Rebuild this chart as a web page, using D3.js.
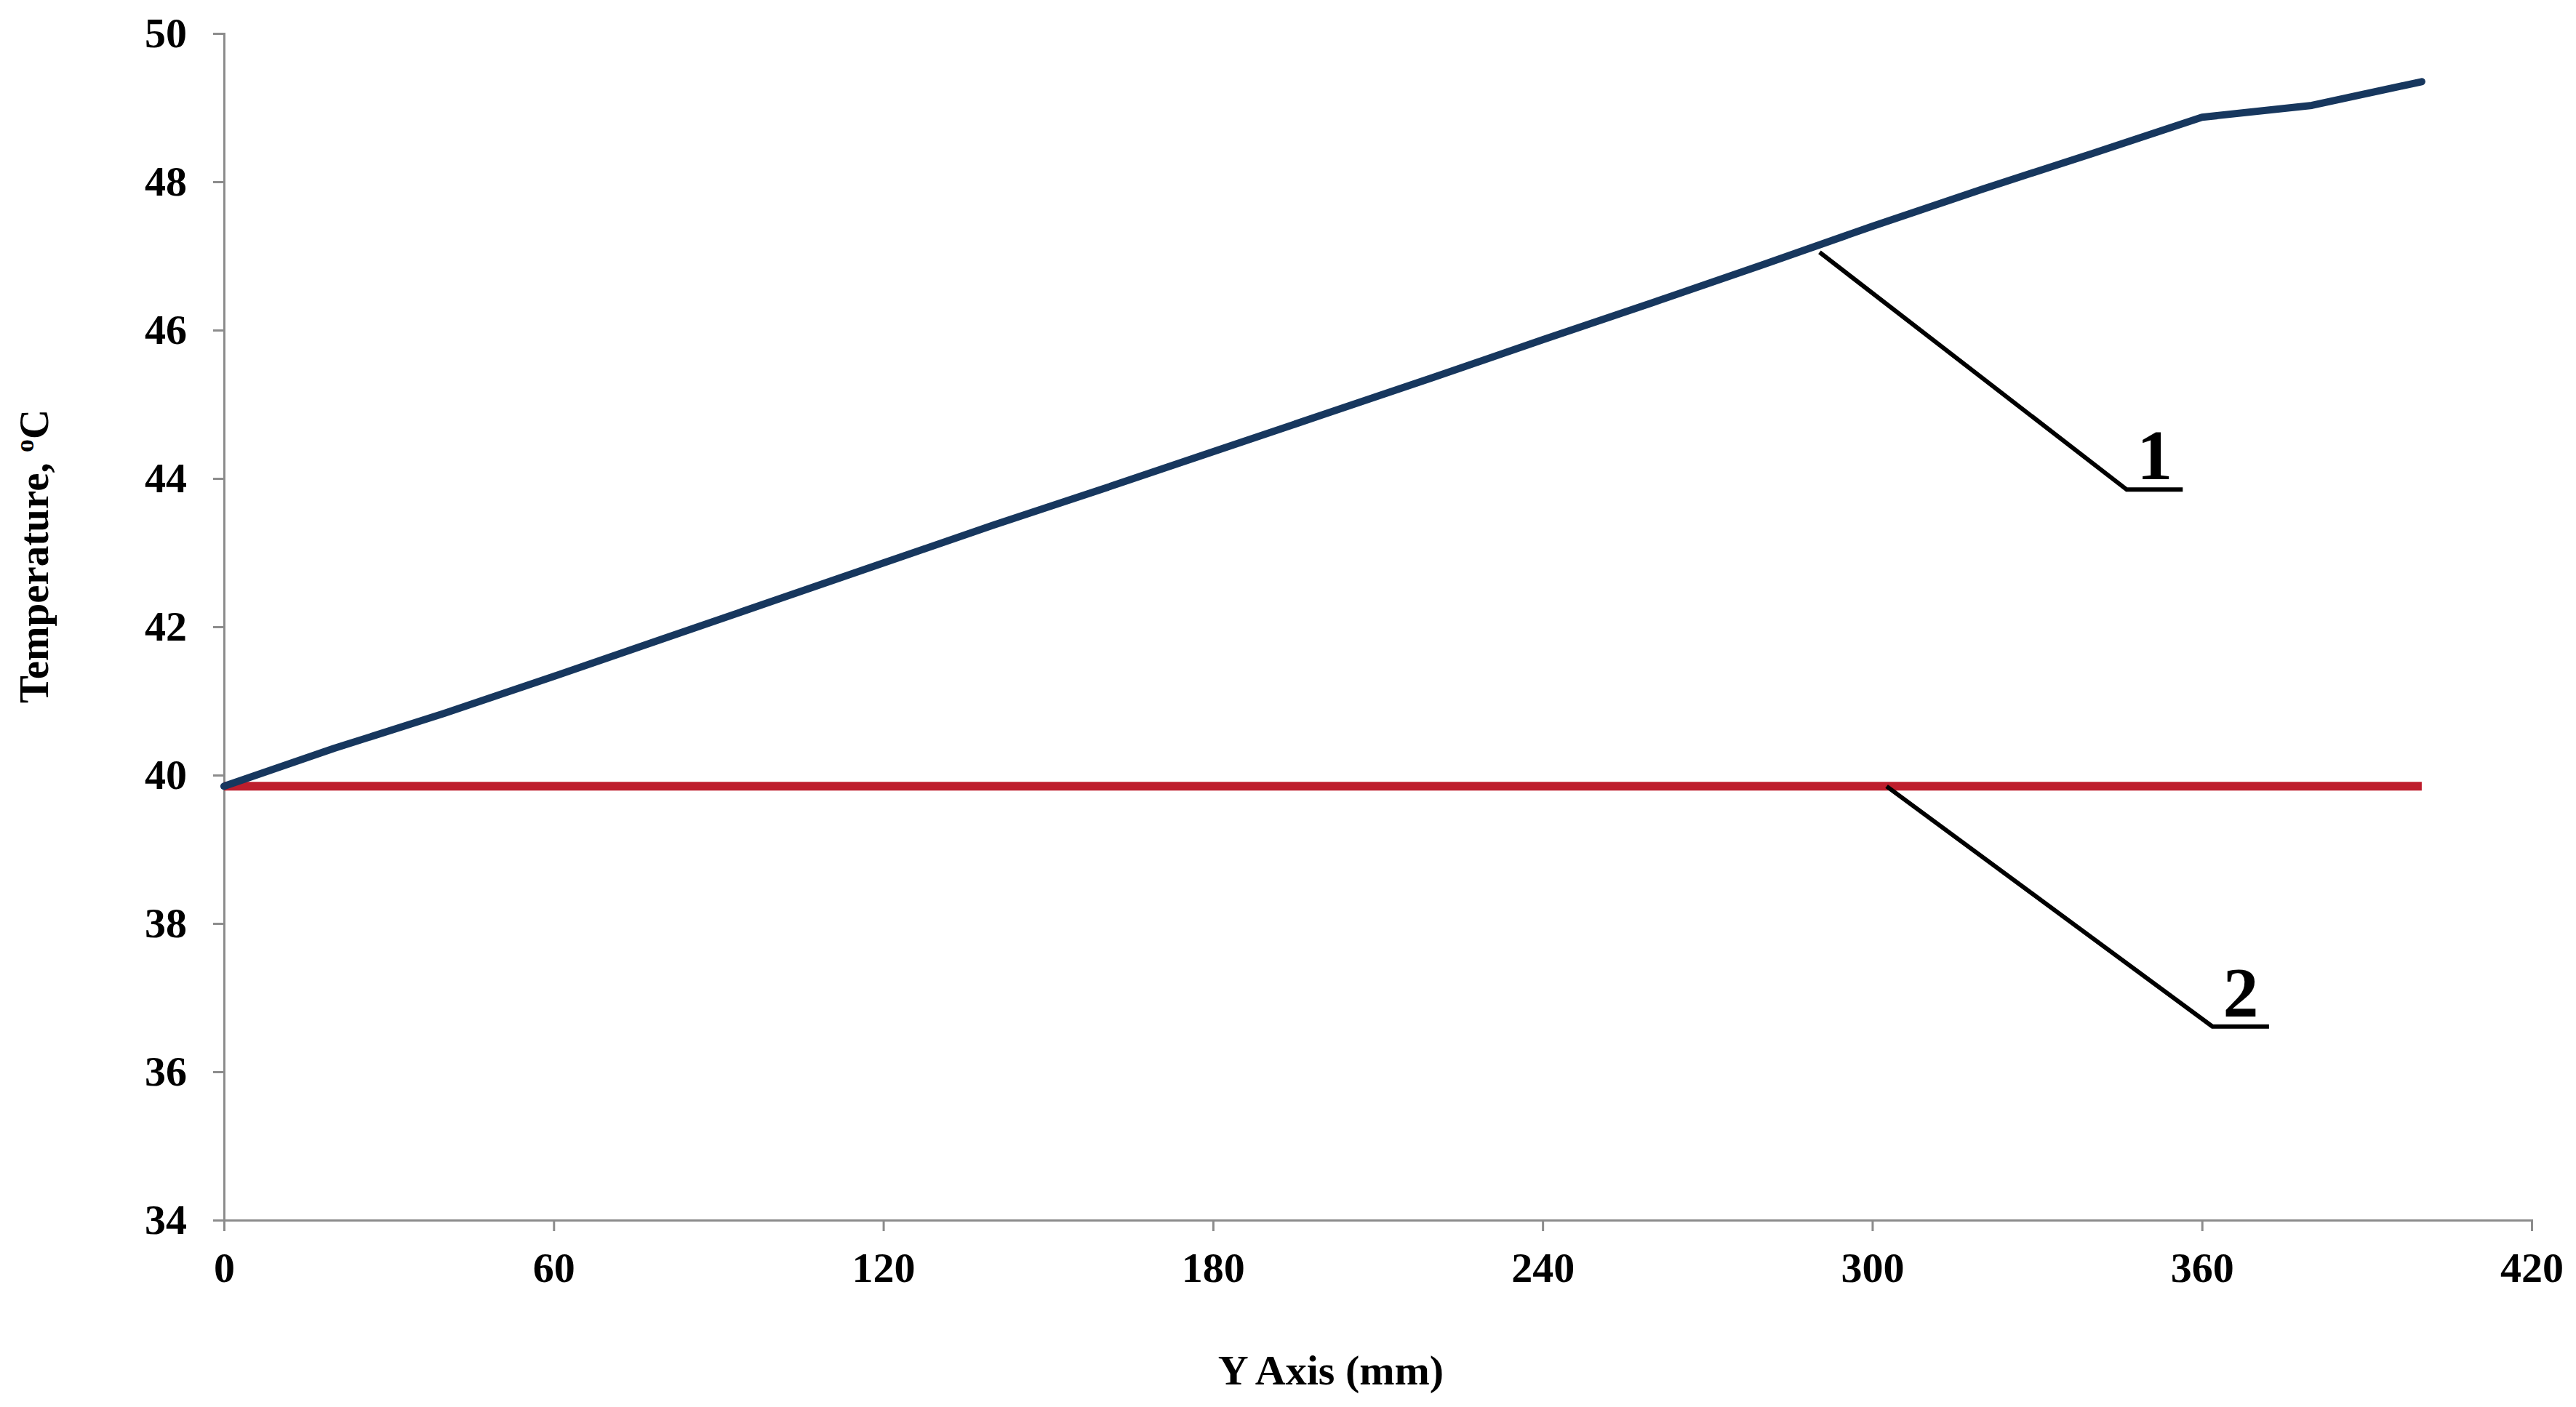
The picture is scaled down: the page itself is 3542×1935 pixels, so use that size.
<!DOCTYPE html>
<html lang="en">
<head>
    <meta charset="UTF-8">
    <title>Temperature along Y axis</title>
    <style>
        body { margin: 0; background: #fff; }
        svg text { font-family: "Liberation Serif", "Times New Roman", serif; font-weight: bold; fill: #000; }
    </style>
</head>
<body>
    <script src="https://cdn.jsdelivr.net/npm/d3@7.3.0/dist/d3.min.js"></script>
    <div id="chart"></div>

    <script>
        const largeur = 3542;
        const hauteur = 1935;

        // positions le long de l'axe (mm)
        const positions = [0, 20, 40, 60, 80, 100, 120, 140, 160, 180, 200, 220, 240, 260, 280, 300, 320, 340, 360, 380, 400];
        // courbe 1
        const temperature1 = [39.85, 40.36, 40.83, 41.33, 41.84, 42.35, 42.86, 43.37, 43.86, 44.36, 44.86, 45.36, 45.87, 46.37, 46.88, 47.4, 47.9, 48.38, 48.87, 49.03, 49.35];
        // courbe 2
        const temperature2 = [39.85, 39.85, 39.85, 39.85, 39.85, 39.85, 39.85, 39.85, 39.85, 39.85, 39.85, 39.85, 39.85, 39.85, 39.85, 39.85, 39.85, 39.85, 39.85, 39.85, 39.85];

        const ticksX = [0, 60, 120, 180, 240, 300, 360, 420];
        const ticksY = [34, 36, 38, 40, 42, 44, 46, 48, 50];

        // repères 1 et 2 : départ sur la courbe, coude, fin du trait
        const reperes = [
            { label: "1", x0: 290.4, y0: 47.05, x1: 346.3, y1: 43.85, x2: 356.5 },
            { label: "2", x0: 302.6, y0: 39.85, x1: 361.9, y1: 36.61, x2: 372.2 }
        ];

        const svg = d3.select("#chart")
            .append("svg")
            .attr("width", largeur)
            .attr("height", hauteur);

        const xScale = d3.scaleLinear()
            .domain([0, 420])
            .range([308, 3481]);

        const yScale = d3.scaleLinear()
            .domain([34, 50])
            .range([1678, 46]);

        // axe Y
        const axeY = svg.append("g")
            .attr("transform", "translate(308,0)")
            .call(d3.axisLeft(yScale).tickValues(ticksY).tickSize(15).tickPadding(36));
        axeY.selectAll("path, line").attr("stroke", "#8c8c8c").attr("stroke-width", 3);
        axeY.selectAll("text").style("font-size", "58px").attr("fill", "#000");

        // axe X
        const axeX = svg.append("g")
            .attr("transform", "translate(0,1678)")
            .call(d3.axisBottom(xScale).tickValues(ticksX).tickSize(15).tickPadding(29));
        axeX.selectAll("path, line").attr("stroke", "#8c8c8c").attr("stroke-width", 3);
        axeX.selectAll("text").style("font-size", "58px").attr("fill", "#000");

        // titres des axes
        svg.append("text")
            .attr("x", 1830)
            .attr("y", 1904)
            .attr("text-anchor", "middle")
            .style("font-size", "58px")
            .text("Y Axis (mm)");

        const titreY = svg.append("text")
            .attr("transform", "translate(66,765) rotate(-90)")
            .attr("text-anchor", "middle")
            .style("font-size", "57px");
        titreY.append("tspan").text("Temperature, ");
        titreY.append("tspan").attr("dy", -20).style("font-size", "36px").text("o");
        titreY.append("tspan").attr("dy", 20).text("C");

        // courbes
        const ligne = d3.line()
            .x((d, i) => xScale(positions[i]))
            .y(d => yScale(d));

        svg.append("path").datum(temperature2)
            .attr("fill", "none")
            .attr("stroke", "#be1e2d")
            .attr("stroke-width", 12)
            .attr("d", ligne);

        svg.append("path").datum(temperature1)
            .attr("fill", "none")
            .attr("stroke", "#17375e")
            .attr("stroke-width", 10)
            .attr("stroke-linejoin", "round")
            .attr("stroke-linecap", "round")
            .attr("d", ligne);

        // repères
        const g = svg.append("g");
        g.selectAll("polyline")
            .data(reperes)
            .join("polyline")
            .attr("fill", "none")
            .attr("stroke", "#000")
            .attr("stroke-width", 6)
            .attr("points", d => [
                [xScale(d.x0), yScale(d.y0)],
                [xScale(d.x1), yScale(d.y1)],
                [xScale(d.x2), yScale(d.y1)]
            ].join(" "));

        g.selectAll("text")
            .data(reperes)
            .join("text")
            .attr("x", d => (xScale(d.x1) + xScale(d.x2)) / 2)
            .attr("y", d => yScale(d.y1) - 14)
            .attr("text-anchor", "middle")
            .style("font-size", "98px")
            .text(d => d.label);
    </script>
</body>
</html>
